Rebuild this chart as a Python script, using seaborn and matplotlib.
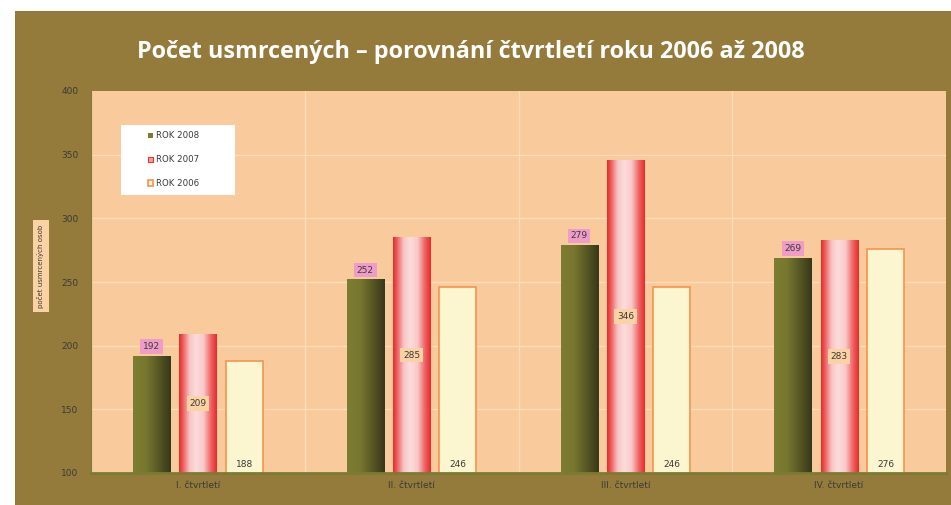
import numpy as np
import pandas as pd
import matplotlib
matplotlib.use("Agg")
import matplotlib.pyplot as plt
import seaborn as sns
from matplotlib.colors import LinearSegmentedColormap
from matplotlib.patches import Patch, Rectangle

quarters = ["I. čtvrtletí", "II. čtvrtletí", "III. čtvrtletí", "IV. čtvrtletí"]
series_names = ["ROK 2008", "ROK 2007", "ROK 2006"]
rok2008 = [192, 252, 279, 269]
rok2007 = [209, 285, 346, 283]
rok2006 = [188, 246, 246, 276]
y_ticks = [100, 150, 200, 250, 300, 350, 400]

df = pd.DataFrame({
    "quarter": quarters * 3,
    "series": [series_names[0]] * 4 + [series_names[1]] * 4 + [series_names[2]] * 4,
    "value": rok2008 + rok2007 + rok2006,
})

BROWN = "#957b3b"
PLOT_BG = "#f9cb9c"
GRID = "#fbddbb"
OLIVE = "#7b7b33"
PINK_BOX = "#f09cc8"
ORANGE_BOX = "#fbd2a4"
CREAM = "#fbf6cf"
ORANGE_EDGE = "#f5934e"
TXT = "#3a3a3a"

sns.set_theme(style="white")
plt.rcParams["font.family"] = ["DejaVu Sans"]

fig = plt.figure(figsize=(9.51, 5.05), dpi=100)
fig.patch.set_facecolor("white")
fig.add_artist(Rectangle((15 / 951, 0), 1 - 15 / 951, 1 - 11 / 505,
                         transform=fig.transFigure, facecolor=BROWN,
                         edgecolor="none", zorder=-10))

ax = fig.add_axes([91 / 951, 1 - 473 / 505, (946 - 91) / 951, (473 - 91) / 505])
ax.set_facecolor(PLOT_BG)

palette = {series_names[0]: OLIVE, series_names[1]: "#e83232", series_names[2]: CREAM}
sns.barplot(data=df, x="quarter", y="value", hue="series", hue_order=series_names,
            order=quarters, palette=palette, width=0.65, gap=0.2,
            saturation=1, ax=ax, legend=False, zorder=3)

ax.set_ylim(100, 400)
ax.set_xlim(-0.5, 3.5)

green_cmap = LinearSegmentedColormap.from_list(
    "g", [(0, "#7c7c32"), (0.35, "#77772f"), (0.65, "#5a5a26"), (1, "#37371a")])
red_cmap = LinearSegmentedColormap.from_list(
    "r", [(0, "#e62a2a"), (0.1, "#ec5a5a"), (0.28, "#f8c4c4"), (0.45, "#fcdcdc"),
          (0.65, "#f9c8c8"), (0.85, "#ee6060"), (1, "#e62a2a")])

grad = np.linspace(0, 1, 256).reshape(1, -1)
containers = ax.containers
for ci, cont in enumerate(containers):
    for p in cont.patches:
        x0 = p.get_x()
        w = p.get_width()
        h = p.get_height()
        if ci == 0 or ci == 1:
            cmap = green_cmap if ci == 0 else red_cmap
            p.set_edgecolor("none")
            im = ax.imshow(grad, cmap=cmap, aspect="auto",
                           extent=(x0, x0 + w, 100, h), zorder=3.5,
                           interpolation="bilinear")
            im.set_clip_path(p)
        else:
            p.set_edgecolor(ORANGE_EDGE)
            p.set_linewidth(1.2)

ax.set_ylim(100, 400)
ax.set_xlim(-0.5, 3.5)

# labels
for p, v in zip(containers[0].patches, rok2008):
    ax.annotate(f"{v}", (p.get_x() + p.get_width() / 2, v), xytext=(0, 3.5),
                textcoords="offset points", ha="center", va="bottom", fontsize=6.5,
                color=TXT, zorder=6,
                bbox=dict(boxstyle="square,pad=0.3", fc=PINK_BOX, ec="none"))
for p, v in zip(containers[1].patches, rok2007):
    ax.text(p.get_x() + p.get_width() / 2, (100 + v) / 2, f"{v}", ha="center",
            va="center", fontsize=6.5, color=TXT, zorder=6,
            bbox=dict(boxstyle="square,pad=0.3", fc=ORANGE_BOX, ec="none"))
for p, v in zip(containers[2].patches, rok2006):
    ax.annotate(f"{v}", (p.get_x() + p.get_width() / 2, 100), xytext=(0, 3),
                textcoords="offset points", ha="center", va="bottom", fontsize=6.5,
                color=TXT, zorder=6)

# grid
for yv in y_ticks[1:-1]:
    ax.axhline(yv, color=GRID, lw=0.9, zorder=1)
for xv in [0.5, 1.5, 2.5]:
    ax.axvline(xv, color=GRID, lw=0.9, zorder=1)

ax.set_yticks(y_ticks)
ax.set_yticklabels([str(t) for t in y_ticks])
ax.tick_params(axis="y", length=0, pad=9, labelsize=6.5, labelcolor=TXT)
ax.tick_params(axis="x", length=0, pad=6, labelsize=6.5, labelcolor=TXT)
ax.set_xlabel("")
ax.set_ylabel("")

for s in ["top", "right"]:
    ax.spines[s].set_visible(False)
ax.spines["bottom"].set_color(OLIVE)
ax.spines["bottom"].set_linewidth(2)
ax.spines["bottom"].set_zorder(5)
ax.spines["left"].set_color(OLIVE)
ax.spines["left"].set_linewidth(0.8)

# legend box (white panel) and legend
fig.add_artist(Rectangle((121 / 951, 1 - 195 / 505), (235 - 121) / 951, 70 / 505,
                         transform=fig.transFigure, facecolor="white",
                         edgecolor="none", zorder=6))
handles = [
    Patch(facecolor=OLIVE, edgecolor="none"),
    Patch(facecolor="#f7a0a0", edgecolor="#e83232", linewidth=0.8),
    Patch(facecolor=CREAM, edgecolor=ORANGE_EDGE, linewidth=1.2),
]
leg = fig.legend(handles, series_names, loc="upper left",
                 bbox_to_anchor=(148 / 951, 1 - 131.5 / 505), fontsize=6.2, frameon=False,
                 handlelength=0.6, handleheight=0.6,
                 handletextpad=0.3, labelspacing=1.72, borderpad=0,
                 borderaxespad=0)
leg.set_zorder(7)
for t in leg.get_texts():
    t.set_color(TXT)

# y-axis label
fig.text(41 / 951, 1 - 266 / 505, "počet usmrcených osob", rotation=90,
         ha="center", va="center", fontsize=5, color=TXT,
         bbox=dict(boxstyle="square,pad=0.6", fc=ORANGE_BOX, ec="none"))

# title
fig.text(471 / 951, 1 - 52 / 505,
         "Počet usmrcených – porovnání čtvrtletí roku 2006 až 2008",
         ha="center", va="center", fontsize=16.8, fontweight="bold",
         color="white", family=["Open Sans", "DejaVu Sans"])

fig.savefig("out.png", dpi=100)
